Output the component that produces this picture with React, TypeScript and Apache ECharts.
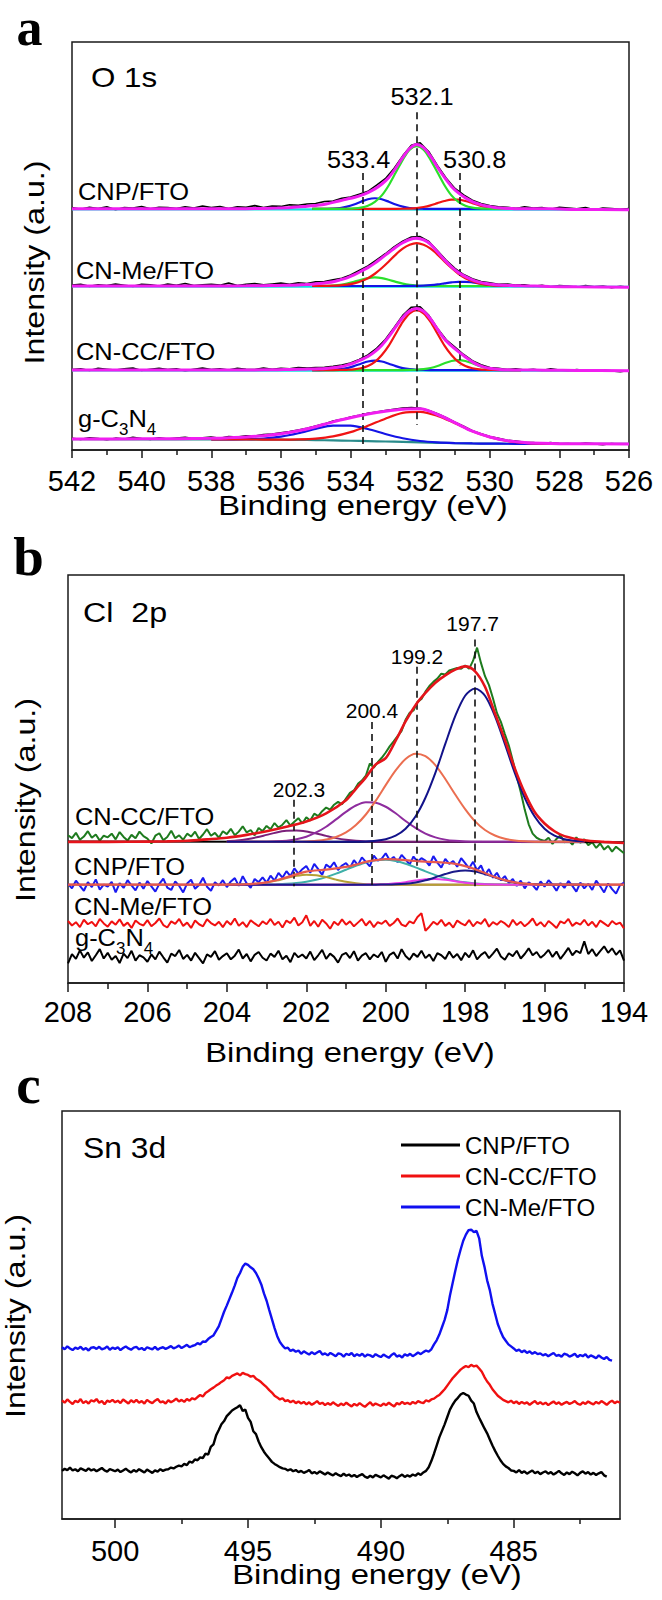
import React, { useEffect, useRef } from "react";
import * as echarts from "echarts";

const FONT = '"Liberation Sans", Arial, Helvetica, sans-serif';
const SERIF = '"Liberation Serif", "Times New Roman", serif';

// channel energies
const stepX = (start: number, step: number, n: number) =>
  Array.from({ length: n }, (_, i) => +(start - step * i).toFixed(3));

// ================= Panel a : O 1s =================
const aOffCNP = 59.1;
const aOffCNMe = 40.2;
const aOffCNCC = 19.6;
const aRawCNP = [0.3,-0.1,0.4,0.1,0.5,-0.2,0.3,0.2,0.6,0.0, 0.4,0.3,0.1,0.5,0.2,0.7,0.3,0.6,0.1,0.5, 0.4,0.8,0.3,0.7,0.6,1.0,0.9,1.2,1.3,1.8, 1.9,2.6,2.9,3.6,4.3,5.8,7.4,9.9,13.0,15.6, 16.2,14.0,10.6,7.5,5.0,3.4,2.1,1.3,0.8,0.5, 0.4,0.1,0.5,0.2,0.3,-0.1,0.4,0.2,0.0,0.3, -0.2,0.2,0.1,-0.1,0.1];
const aRawCNMe = [0.2,0.4,-0.1,0.3,0.1,0.5,0.2,-0.1,0.4,0.3, 0.0,0.5,0.2,0.6,0.1,0.3,0.4,0.2,0.7,0.1, 0.4,0.6,0.3,0.5,0.7,0.4,0.8,0.6,1.0,1.1, 1.5,1.9,2.7,3.8,4.9,6.4,7.9,9.6,11.0,12.0, 12.1,10.9,8.6,6.3,4.3,2.8,1.8,1.1,0.8,0.4, 0.5,0.2,0.3,-0.1,0.2,-0.2,0.1,0.0,-0.3,0.1, -0.2,0.0,-0.4,-0.1,-0.3];
const aRawCNCC = [0.1,0.3,-0.1,0.4,0.2,0.0,0.3,0.5,-0.1,0.2, 0.4,0.1,0.3,-0.2,0.2,0.5,0.1,0.3,0.0,0.4, 0.2,0.1,0.5,0.2,0.4,0.3,0.6,0.5,0.6,0.7, 0.9,1.2,1.7,2.6,3.7,5.3,7.5,10.4,13.4,15.4, 15.5,13.4,10.2,7.4,5.6,3.8,2.3,1.3,0.6,0.4, 0.1,0.3,0.0,0.2,-0.1,0.3,0.0,-0.2,0.1,-0.1, -0.3,0.0,-0.2,-0.4,-0.1];
const aRawG = [2.9,2.6,3.0,2.8,2.5,2.9,2.7,3.1,2.8,2.6, 3.0,2.7,2.9,3.1,2.8,3.0,3.2,2.9,3.3,3.2, 3.5,3.4,3.8,3.9,4.2,4.5,4.9,5.3,5.9,6.4, 7.1,7.5,8.1,8.5,9.0,9.3,9.7,10.0,10.3,10.4, 10.2,9.7,8.9,7.9,6.8,5.8,4.7,4.0,3.3,2.9, 2.4,2.2,1.9,1.8,1.6,1.8,1.5,1.6,1.4,1.7, 1.5,1.3,1.6,1.4,1.5];

const aCompX = stepX(535.1, 0.2, 31);
const aEnvX = [542, 540, 538, 537, 536.5, 536.1, 535.7, 535.3, ...aCompX, 528.7, 528.3, 527.5, 526];
const aEnvCNP = [0,0,0,0.05,0.1,0.2,0.35,0.6, 0.75,0.95,1.2,1.6,2.0,2.4,2.8,3.3,4.0,4.9,6.1,7.7,10.0,12.6,14.8,15.8,15.0,12.9,10.2,7.7,5.5,3.9,2.7,1.8,1.15,0.7,0.4,0.2,0.1,0.05,0, 0,0,-0.15,-0.2];
const aEnvCNMe = [0,0,0,0.03,0.07,0.12,0.2,0.35, 0.45,0.6,0.8,1.05,1.5,2.0,2.7,3.6,4.5,5.6,6.9,8.2,9.5,10.6,11.4,11.7,11.3,10.2,8.3,6.4,4.7,3.3,2.3,1.5,0.95,0.6,0.38,0.25,0.15,0.08,0.04, 0,-0.1,-0.2,-0.3];
const aEnvCNCC = [0,0,0,0.02,0.05,0.08,0.13,0.2, 0.25,0.3,0.4,0.55,0.8,1.2,1.75,2.5,3.3,4.5,6.1,8.2,10.6,12.9,14.5,15.1,14.4,12.5,10.0,7.6,5.9,4.5,3.2,2.0,1.15,0.6,0.3,0.15,0.07,0.03,0, 0,-0.05,-0.1,-0.2];
const aGreenCNP = [0,0,0,0,0,0.03,0.1,0.3,0.75,1.7,3.3,5.8,8.9,12.0,14.5,15.4,14.5,12.0,8.9,5.8,3.3,1.7,0.75,0.3,0.1,0.03,0,0,0,0,0];
const aBlueCNP = [0,0,0.02,0.07,0.22,0.54,1.07,1.75,2.36,2.6,2.36,1.75,1.07,0.54,0.22,0.07,0.02,0,0,0,0,0,0,0,0,0,0,0,0,0,0];
const aRedCNP = [0,0,0,0,0,0,0,0,0,0,0,0,0,0.025,0.08,0.2,0.46,0.86,1.4,1.92,2.25,2.25,1.92,1.4,0.86,0.46,0.2,0.08,0.025,0,0];
const aRedCNMe = [0,0.01,0.03,0.07,0.16,0.33,0.63,1.15,1.9,3.0,4.4,6.0,7.7,9.15,10.1,10.5,10.1,9.15,7.7,6.0,4.4,3.0,1.9,1.15,0.63,0.33,0.16,0.07,0.03,0.01,0];
const aGreenCNMe = [0,0.01,0.04,0.12,0.28,0.58,1.02,1.52,1.94,2.1,1.94,1.52,1.02,0.58,0.28,0.12,0.04,0.01,0,0,0,0,0,0,0,0,0,0,0,0,0];
const aBlueCNMe = [0,0,0,0,0,0,0,0,0,0,0,0,0,0,0.01,0.04,0.09,0.21,0.39,0.64,0.88,1.03,1.03,0.88,0.64,0.39,0.21,0.09,0.04,0.01,0];
const aRedCNCC = [0,0,0,0,0.02,0.06,0.16,0.43,0.97,2.0,3.7,6.0,8.9,11.8,13.9,14.7,13.9,11.8,8.9,6.0,3.7,2.0,0.97,0.43,0.16,0.06,0.02,0,0,0,0];
const aBlueCNCC = [0,0,0.02,0.06,0.2,0.47,0.95,1.55,2.08,2.3,2.08,1.55,0.95,0.47,0.2,0.06,0.02,0,0,0,0,0,0,0,0,0,0,0,0,0,0];
const aGreenCNCC = [0,0,0,0,0,0,0,0,0,0,0,0,0,0,0.02,0.07,0.21,0.5,1.0,1.65,2.22,2.45,2.22,1.65,1.0,0.5,0.21,0.07,0.02,0,0];

const gX = stepX(538, 0.5, 21);
const gTealX = [542, ...gX, 526];
const gTeal = [2.65, 2.6,2.6,2.58,2.55,2.52,2.48,2.43,2.35,2.27,2.18,2.08,1.98,1.87,1.77,1.68,1.61,1.56,1.53,1.51,1.5,1.5, 1.48];
const gRed = [2.6,2.6,2.58,2.56,2.55,2.61,2.81,3.33,4.37,5.93,7.68,9.08,9.34,8.37,6.58,4.61,3.16,2.22,1.76,1.58,1.52];
const gBlue = [2.6,2.62,2.66,2.82,3.27,4.11,5.19,5.98,5.99,5.15,3.93,2.88,2.21,1.87,1.7,1.61,1.56,1.53,1.51,1.5,1.5];
const gEnvX = [542, 540, ...gX, 526];
const gEnv = [2.7,2.75, 2.85,3.0,3.2,3.5,4.0,4.7,5.7,6.9,7.9,8.8,9.5,10.0,10.1,8.7,6.7,4.6,3.2,2.3,1.85,1.65,1.55, 1.5];

const aDashX = [533.65, 532.1, 530.85];
const aDashTop = [67.9, 82.8, 67.9];
const aDashBottom = [0.5, 6.1, 20.8];

// ================= Panel b : Cl 2p =================
const bBaseCC = 34.6;
const bBaseCNP = 24.1;
const bGreenCC = [362,355,368,351,359,372,356,364,349,361, 357,366,352,370,358,349,363,355,371,360, 354,342,361,367,350,358,373,355,362,351, 366,359,371,353,364,377,361,368,356,372, 365,378,362,371,384,369,375,362,380,372, 385,377,392,381,388,399,386,395,404,391, 406,398,415,409,421,430,425,437,444,438, 452,466,472,488,496,508,538,528,541,552, 565,580,592,605,618,645,662,668,689,696, 714,728,738,746,758,756,766,769,772,770, 778,770,790,822,784,752,730,698,662,640, 610,582,545,506,468,425,389,366,356,351, 348,356,341,353,362,345,350,339,357,344, 352,338,345,331,342,327,336,322,334,326, 318];
const bBlueCNP = [243,232,251,238,226,247,235,254,229,241, 236,248,222,245,233,252,239,227,246,231, 250,237,224,243,256,234,228,249,238,222, 244,253,231,240,258,236,226,247,239,252, 235,249,257,238,262,244,233,255,247,259, 246,263,251,270,258,274,262,281,268,279, 287,270,292,279,265,290,283,296,277,288, 294,282,301,289,308,297,286,312,300,305, 318,301,309,296,314,303,290,310,297,306, 300,288,311,295,283,304,292,299,285,306, 294,281,297,276,288,265,279,258,270,252, 262,245,255,238,251,232,247,240,228,249, 236,252,241,226,245,233,250,238,224,246, 232,243,228,251,237,222,244,230,219,240, 246];
const bRedMe = [152,141,149,137,155,144,150,139,157,146, 138,151,143,156,140,148,135,153,145,141, 154,139,147,158,142,136,151,145,157,140, 148,135,153,144,139,156,147,141,150,137, 152,143,158,140,149,137,154,146,139,151, 144,157,142,150,136,153,147,160,141,149, 166,140,152,138,155,146,133,150,142,156, 143,151,139,148,157,141,152,137,149,145, 153,140,147,158,143,139,151,146,162,171, 128,138,150,143,155,140,148,136,153,146, 141,154,139,150,145,157,138,149,143,152, 146,137,155,142,150,139,147,158,141,149, 138,152,144,135,151,146,157,140,148,143, 155,141,150,137,153,146,139,152,144,148, 134];
const bBlackG = [48,71,59,80,62,75,54,68,83,60, 74,57,66,49,72,61,79,55,68,63, 52,70,58,77,63,50,72,66,81,59, 69,55,74,61,48,70,64,78,57,66, 73,58,67,82,60,71,53,69,76,62, 55,72,64,79,58,67,51,74,63,70, 60,77,56,68,81,59,72,64,50,69, 74,61,78,55,67,73,58,70,63,76, 52,69,75,60,83,66,57,72,64,79, 61,70,54,73,68,59,77,62,71,56, 74,63,80,58,69,76,61,72,84,65, 57,73,66,79,60,71,85,68,76,62, 70,81,64,77,59,72,86,68,79,73, 102,71,83,66,78,90,74,85,69,80, 55];

const bEnvX = [208,207,206,205.5,205,204.5,204,203.5,203,202.5,202,201.5,201,200.75,200.5,200.25,200,199.75,199.5,199.25,199,198.75,198.5,198.25,198,197.75,197.5,197.25,197,196.75,196.5,196.25,196,195.75,195.5,195,194.5,194];
const bEnvCC = [0,0,0.05,0.1,0.25,0.6,1.0,1.7,2.6,3.7,5.0,7.0,10.2,13.0,15.8,19.0,20.5,24.8,29.5,33.5,36.5,39.0,40.8,42.2,43.0,41.8,38.0,31.5,25.0,18.0,12.0,7.3,4.5,2.6,1.4,0.4,0,-0.3];
const bEnvCNP = [0,0,0,0,0,0,0.01,0.1,0.57,1.8,3.2,3.7,4.36,4.93,5.57,6.0,6.27,6.21,6.0,5.8,5.65,5.55,5.38,5.08,4.56,3.79,2.84,1.9,1.1,0.56,0.24,0.09,0.03,0.01,0,0,0,0];

const bCompX = stepX(204, 0.25, 37);
const bNavyCC = [0,0,0,0,0,0,0,0,0,0,0,0,0.01,0.03,0.09,0.25,0.65,1.5,3.2,6.2,10.8,16.9,24.0,30.8,35.8,37.6,35.8,30.8,24.0,16.9,10.8,6.2,3.2,1.5,0.65,0.25,0.09];
const bSalmonCC = [0,0,0,0,0,0,0.01,0.03,0.1,0.24,0.55,1.2,2.3,4.1,6.7,10.1,13.9,17.5,20.3,21.6,21.0,18.8,15.4,11.6,8.0,5.0,2.9,1.56,0.76,0.34,0.14,0.05,0.02,0,0,0,0];
const bPurpleCC = [0,0,0,0.01,0.04,0.12,0.29,0.63,1.26,2.3,3.7,5.5,7.35,8.9,9.7,9.6,8.6,7.0,5.1,3.4,2.0,1.1,0.54,0.24,0.1,0.04,0.01,0,0,0,0,0,0,0,0,0,0];
const bPlumCC = [0.15,0.33,0.64,1.1,1.7,2.3,2.7,2.8,2.55,2.05,1.46,0.91,0.5,0.24,0.1,0.04,0.01,0,0,0,0,0,0,0,0,0,0,0,0,0,0,0,0,0,0,0,0];
const bTealCNP = [0,0,0.01,0.02,0.04,0.1,0.2,0.39,0.71,1.19,1.85,2.7,3.66,4.6,5.44,5.96,6.1,5.8,5.14,4.25,3.27,2.35,1.57,0.98,0.57,0.31,0.15,0.07,0.03,0.01,0,0,0,0,0,0,0];
const bOliveCNP = [0.01,0.03,0.09,0.23,0.53,1.0,1.61,2.16,2.45,2.32,1.85,1.24,0.7,0.33,0.13,0.04,0.01,0,0,0,0,0,0,0,0,0,0,0,0,0,0,0,0,0,0,0,0];
const bPinkCNP = [0,0,0,0,0,0,0,0,0,0,0,0,0,0,0.01,0.04,0.13,0.32,0.62,1.0,1.31,1.4,1.21,0.85,0.49,0.23,0.09,0.03,0,0,0,0,0,0,0,0,0];
const bNavyCNP = [0,0,0,0,0,0,0,0,0,0,0,0,0,0,0,0.01,0.03,0.09,0.24,0.55,1.07,1.8,2.6,3.25,3.5,3.25,2.6,1.8,1.07,0.55,0.24,0.09,0.03,0.01,0,0,0];

const bDashX = [202.32, 200.35, 199.23, 197.75];
const bDashTop = [44.9, 64.0, 77.5, 84.2];
const bDashBottom = [23.7, 23.7, 24.9, 23.7];

// ================= Panel c : Sn 3d =================
const cNames = ["CNP/FTO", "CN-CC/FTO", "CN-Me/FTO"];
const cTicks = [500, 495, 490, 485];
const cMinorTicks = [497.5, 492.5, 487.5, 482.5];
const cBlack = [118,123,120,126,119,122,117,124,121,118, 124,119,122,117,121,125,119,116,122,120, 117,121,115,119,123,118,114,120,116,122, 118,114,121,117,113,119,116,122,118,121, 122,126,124,128,131,129,135,132,141,138, 146,144,151,149,160,158,177,183,205,218, 232,240,252,259,266,270,274,279,265,268, 248,238,215,208,190,176,165,156,148,140, 135,131,127,124,123,119,122,117,120,115, 118,113,116,120,112,115,111,117,113,109, 114,110,107,112,108,105,111,106,109,104, 108,103,107,110,104,101,106,102,108,105, 102,107,103,99,106,104,100,105,109,103, 107,104,109,106,112,108,114,118,127,142, 160,180,200,216,232,250,268,280,290,297, 305,309,305,302,290,283,262,248,235,222, 210,195,180,167,155,144,135,129,125,119, 118,114,120,113,117,111,115,119,112,116, 110,114,117,111,115,109,113,118,112,108, 114,110,116,112,107,113,117,111,115,109, 113,108,112,115,107,104];
const cRed = [291,285,293,287,282,290,286,294,284,289, 283,291,288,294,285,289,281,290,287,292, 286,290,284,293,288,283,291,286,292,285, 289,283,292,287,284,290,294,286,288,283, 291,286,290,295,288,292,287,294,290,296, 293,299,304,300,309,313,318,322,327,331, 336,340,347,345,351,354,357,352,358,355, 353,349,351,344,340,335,329,323,316,310, 302,298,293,296,289,291,286,290,284,288, 283,287,281,286,280,284,289,282,285,279, 284,280,286,281,277,283,279,285,280,276, 282,278,284,279,275,281,286,278,283,280, 277,283,279,285,280,276,284,281,287,282, 285,281,287,283,289,286,284,291,288,293, 295,300,304,311,318,327,336,345,352,359, 366,371,375,372,378,374,376,369,361,348, 337,329,318,310,302,297,292,289,286,290, 284,288,282,287,283,286,280,285,289,282, 286,281,285,279,284,288,282,286,280,284, 287,282,285,289,283,280,286,282,288,284, 281,287,283,289,285,280,286,290,284,288, 285];
const cBlue = [421,416,423,418,414,420,417,422,415,419, 413,420,421,417,422,416,418,423,415,420, 417,421,414,419,423,418,415,420,422,416, 419,414,421,418,416,422,415,419,421,417, 420,424,418,421,425,419,423,427,421,424, 426,431,428,435,434,441,446,450,461,472, 490,508,523,539,555,572,591,603,618,626, 623,617,612,603,590,575,553,535,512,490, 468,448,434,425,418,420,412,415,410,413, 405,411,407,403,409,404,408,412,403,406, 401,407,403,399,406,404,398,405,402,407, 399,404,400,405,398,403,401,397,404,400, 397,403,399,395,402,406,398,401,396,404, 400,405,399,403,408,404,409,413,410,416, 428,438,452,470,488,512,548,578,608,636, 660,682,697,708,709,703,706,688,645,618, 585,561,528,503,478,461,446,437,428,423, 418,412,415,409,413,407,411,405,409,404, 406,401,404,399,403,407,400,402,398,405, 403,398,401,405,397,402,399,404,396,401, 398,394,401,396,392,397,390,388];

// ---------- helpers ----------
const pts = (xs: number[], ys: number[], off = 0, scale = 1) =>
  ys.map((y, i) => [xs[i], +(y * scale + off).toFixed(3)]);
const raw = (start: number, step: number, ys: number[], off = 0, scale = 1) =>
  pts(stepX(start, step, ys.length), ys, off, scale);

const line = (name: string, axis: number, data: any[], color: string, width: number, z: number, smooth: any = false) => ({
  name, type: "line", xAxisIndex: axis, yAxisIndex: axis, data, symbol: "none", showSymbol: false,
  smooth, silent: true, z, lineStyle: { color, width }, itemStyle: { color }, emphasis: { disabled: true },
});

const dashes = (axis: number, xs: number[], tops: number[], bottoms: number[]) => ({
  type: "line", xAxisIndex: axis, yAxisIndex: axis, data: [], symbol: "none", silent: true, z: 9,
  markLine: {
    silent: true, symbol: ["none", "none"], label: { show: false }, animation: false,
    lineStyle: { color: "#111", width: 1.6, type: [7, 5] },
    data: xs.map((x, i) => [{ coord: [x, tops[i]] }, { coord: [x, bottoms[i]] }]),
  },
});

const txt = (text: string, x: number, y: number, size: number, o: any = {}) => ({
  type: "text", x, y, z: 100, rotation: o.rot || 0, scaleX: o.sx || 1, silent: true,
  style: {
    text, fill: "#000",
    font: `${o.bold ? "bold " : ""}${size}px ${o.family || FONT}`,
    textAlign: o.align || "left", align: o.align || "left",
    textVerticalAlign: "middle", verticalAlign: "middle",
  },
});

const AX = "#1a1a1a";
const xAxisOf = (gridIndex: number, min: number, max: number, extra: any = {}) => ({
  gridIndex, type: "value", min, max, inverse: true, position: "bottom",
  axisLine: { show: true, onZero: false, lineStyle: { color: AX, width: 1.5 } },
  axisTick: { show: true, inside: false, length: 8, lineStyle: { color: AX, width: 1.5 } },
  minorTick: { show: true, splitNumber: 2, length: 5, lineStyle: { color: AX, width: 1.5 } },
  splitLine: { show: false }, minorSplitLine: { show: false },
  axisLabel: { show: true, color: "#000", fontSize: 29, fontFamily: FONT, margin: 16 },
  ...extra,
});

function buildOption() {
  const series: any[] = [];
  // ----- panel a -----
  const aSamples = [
    { key: "CNP/FTO", raw: aRawCNP, env: aEnvCNP, off: aOffCNP, comps: [[aBlueCNP, "#1414E6"], [aRedCNP, "#F01414"], [aGreenCNP, "#2BE02B"]] },
    { key: "CN-Me/FTO", raw: aRawCNMe, env: aEnvCNMe, off: aOffCNMe, comps: [[aGreenCNMe, "#2BE02B"], [aBlueCNMe, "#1414E6"], [aRedCNMe, "#F01414"]] },
    { key: "CN-CC/FTO", raw: aRawCNCC, env: aEnvCNCC, off: aOffCNCC, comps: [[aBlueCNCC, "#1414E6"], [aGreenCNCC, "#2BE02B"], [aRedCNCC, "#F01414"]] },
  ];
  aSamples.forEach((s) => {
    series.push(line(`O1s ${s.key} raw`, 0, raw(542, 0.25, s.raw, s.off), "#000", 1.6, 2));
    series.push(line(`O1s ${s.key} bg`, 0, [[542, s.off - 0.1], [526, s.off - 0.2]], "#14E0E0", 2.2, 3));
    s.comps.forEach(([c, col]: any, i: number) =>
      series.push(line(`O1s ${s.key} c${i}`, 0, pts(aCompX, c, s.off), col, 2.2, 4, 0.3)));
    series.push(line(`O1s ${s.key} fit`, 0, pts(aEnvX, s.env, s.off), "#F01EF0", 3, 5, 0.3));
  });
  series.push(line("O1s g raw", 0, raw(542, 0.25, aRawG), "#000", 1.6, 2));
  series.push(line("O1s g bg", 0, pts(gTealX, gTeal), "#2A8C8C", 2.2, 3, 0.3));
  series.push(line("O1s g c0", 0, pts(gX, gBlue), "#1414E6", 2.2, 4, 0.3));
  series.push(line("O1s g c1", 0, pts(gX, gRed), "#F01414", 2.2, 4, 0.3));
  series.push(line("O1s g fit", 0, pts(gEnvX, gEnv), "#F01EF0", 3, 5, 0.3));
  series.push(dashes(0, aDashX, aDashTop, aDashBottom));

  // ----- panel b -----
  series.push(line("Cl g raw", 1, raw(208, 0.1, bBlackG, 0, 0.1), "#000", 2, 2));
  series.push(line("Cl Me raw", 1, raw(208, 0.1, bRedMe, 0, 0.1), "#F01010", 2, 2));
  series.push(line("Cl CNP raw", 1, raw(208, 0.1, bBlueCNP, 0, 0.1), "#1A1AF0", 2, 2));
  series.push(line("Cl CNP base", 1, [[208, bBaseCNP], [194, bBaseCNP]], "#8B1E1E", 1.8, 3));
  series.push(line("Cl CNP teal", 1, pts(bCompX, bTealCNP, bBaseCNP), "#3FB0A8", 2, 4, 0.3));
  series.push(line("Cl CNP olive", 1, pts(bCompX, bOliveCNP, bBaseCNP), "#B5A035", 2, 4, 0.3));
  series.push(line("Cl CNP pink", 1, pts(bCompX, bPinkCNP, bBaseCNP), "#E83CE8", 2, 4, 0.3));
  series.push(line("Cl CNP navy", 1, pts(bCompX, bNavyCNP, bBaseCNP), "#1A1A8A", 2, 4, 0.3));
  series.push(line("Cl CNP fit", 1, pts(bEnvX, bEnvCNP, bBaseCNP), "#E8584E", 2.2, 5, 0.3));
  series.push(line("Cl CC raw", 1, raw(208, 0.1, bGreenCC, 0, 0.1), "#1E7B1E", 2, 2));
  series.push(line("Cl CC base", 1, [[208, 34.7], [194, 34.5]], "#000", 2, 3));
  series.push(line("Cl CC plum", 1, pts(bCompX, bPlumCC, bBaseCC), "#7A1F7A", 2, 4, 0.3));
  series.push(line("Cl CC purple", 1, pts(bCompX, bPurpleCC, bBaseCC), "#8E2C9E", 2, 4, 0.3));
  series.push(line("Cl CC salmon", 1, pts(bCompX, bSalmonCC, bBaseCC), "#EB6E50", 2, 4, 0.3));
  series.push(line("Cl CC navy", 1, pts(bCompX, bNavyCC, bBaseCC), "#12128A", 2, 4, 0.3));
  series.push(line("Cl CC fit", 1, pts(bEnvX, bEnvCC, bBaseCC), "#E5141B", 2.6, 5, 0.3));
  series.push(dashes(1, bDashX, bDashTop, bDashBottom));

  // ----- panel c -----
  series.push(line(cNames[0], 2, raw(502, 0.1, cBlack, 0, 0.1), "#000", 2.4, 3));
  series.push(line(cNames[1], 2, raw(502, 0.1, cRed, 0, 0.1), "#F01010", 2.4, 3));
  series.push(line(cNames[2], 2, raw(502, 0.1, cBlue, 0, 0.1), "#1010F0", 2.4, 3));

  const graphic = [
    txt("a", 29.5, 27, 52, { bold: true, family: SERIF, align: "center" }),
    txt("b", 28.5, 556.5, 55, { bold: true, family: SERIF, align: "center" }),
    txt("c", 28.5, 1084.5, 55, { bold: true, family: SERIF, align: "center" }),
    // panel a
    txt("O 1s", 91, 77, 28, { sx: 1.12 }),
    txt("532.1", 422, 97, 23, { align: "center", sx: 1.1 }),
    txt("533.4", 358.6, 160, 23, { align: "center", sx: 1.1 }),
    txt("530.8", 474.7, 160, 23, { align: "center", sx: 1.1 }),
    txt("CNP/FTO", 78, 191.7, 24, { sx: 1.06 }),
    txt("CN-Me/FTO", 76, 271, 24, { sx: 1.06 }),
    txt("CN-CC/FTO", 76, 351.7, 24, { sx: 1.06 }),
    txt("g-C", 78, 418.4, 24, { sx: 1.06 }),
    txt("3", 119, 429.5, 16, { sx: 1.06 }),
    txt("N", 128.5, 418.4, 24, { sx: 1.06 }),
    txt("4", 146.8, 429.5, 16, { sx: 1.06 }),
    txt("Intensity (a.u.)", 34.5, 262.5, 28, { rot: Math.PI / 2, align: "center", sx: 1.15 }),
    txt("Binding energy (eV)", 363, 505, 28, { align: "center", sx: 1.17 }),
    // panel b
    txt("Cl  2p", 83, 612, 28, { sx: 1.15 }),
    txt("197.7", 472.6, 623, 21, { align: "center" }),
    txt("199.2", 417, 656, 21, { align: "center" }),
    txt("200.4", 372, 710, 21, { align: "center" }),
    txt("202.3", 299, 789, 21, { align: "center" }),
    txt("CN-CC/FTO", 75, 816.7, 24, { sx: 1.06 }),
    txt("CNP/FTO", 74, 866.7, 24, { sx: 1.06 }),
    txt("CN-Me/FTO", 74, 906.7, 24, { sx: 1.06 }),
    txt("g-C", 75, 937.7, 24, { sx: 1.06 }),
    txt("3", 116, 948.5, 16, { sx: 1.06 }),
    txt("N", 125.5, 937.7, 24, { sx: 1.06 }),
    txt("4", 143.8, 948.5, 16, { sx: 1.06 }),
    txt("Intensity (a.u.)", 25, 800, 28, { rot: Math.PI / 2, align: "center", sx: 1.15 }),
    txt("Binding energy (eV)", 350, 1052, 28, { align: "center", sx: 1.17 }),
    // panel c
    txt("Sn 3d", 83, 1147.6, 30, { sx: 1.06 }),
    txt("Intensity (a.u.)", 15.5, 1316, 28, { rot: Math.PI / 2, align: "center", sx: 1.15 }),
    txt("Binding energy (eV)", 377, 1574, 28, { align: "center", sx: 1.17 }),
  ];

  const gridBox = { show: true, borderColor: AX, borderWidth: 1.5, backgroundColor: "transparent", containLabel: false };
  return {
    animation: false,
    backgroundColor: "#fff",
    grid: [
      { ...gridBox, left: 72, top: 42, width: 557, height: 408 },
      { ...gridBox, left: 68, top: 575, width: 556, height: 408 },
      { ...gridBox, left: 62, top: 1111, width: 558, height: 408 },
    ],
    xAxis: [
      xAxisOf(0, 526, 542, { interval: 2 }),
      xAxisOf(1, 194, 208, {
        interval: 2,
        axisTick: { show: true, length: 9, lineStyle: { color: AX, width: 1.5 } },
        minorTick: { show: true, splitNumber: 2, length: 6, lineStyle: { color: AX, width: 1.5 } },
        axisLabel: { show: true, color: "#000", fontSize: 29, fontFamily: FONT, margin: 14 },
      }),
      xAxisOf(2, 481, 502, {
        minorTick: { show: false },
        axisTick: { show: true, length: 9, customValues: cTicks, lineStyle: { color: AX, width: 1.5 } },
        axisLabel: { show: true, color: "#000", fontSize: 29, fontFamily: FONT, margin: 17, customValues: cTicks },
      }),
      {
        gridIndex: 2, type: "value", min: 481, max: 502, inverse: true, position: "bottom", offset: 0,
        axisLine: { show: false }, axisLabel: { show: false }, splitLine: { show: false },
        axisTick: { show: true, length: 5, customValues: cMinorTicks, lineStyle: { color: AX, width: 1.5 } },
      },
    ],
    yAxis: [0, 1, 2].map((g) => ({ gridIndex: g, type: "value", min: 0, max: 100, show: false })),
    legend: {
      data: cNames, orient: "vertical", left: 396, top: 1128, icon: "rect",
      itemWidth: 59, itemHeight: 3, itemGap: 7,
      selectedMode: false, textStyle: { fontSize: 24, fontFamily: FONT, color: "#000", lineHeight: 24 },
    },
    series,
    graphic,
  };
}

export default function App() {
  const ref = useRef<HTMLDivElement>(null);
  useEffect(() => {
    const chart = echarts.init(ref.current!, null, { renderer: "svg" });
    chart.setOption(buildOption() as any);
    return () => chart.dispose();
  }, []);
  return (
    <div
      ref={ref}
      style={{ position: "absolute", left: 0, top: 0, width: 662, height: 1600, background: "#fff" }}
    />
  );
}
